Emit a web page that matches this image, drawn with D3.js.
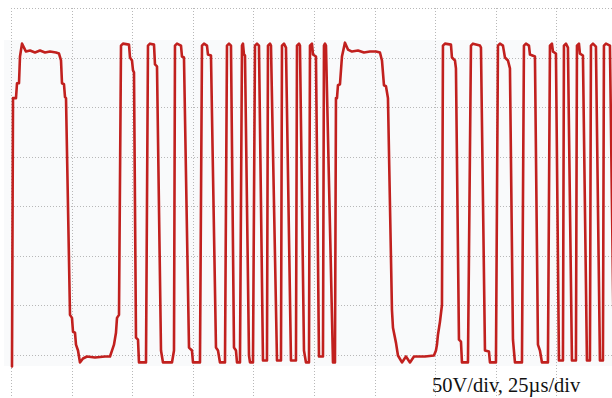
<!DOCTYPE html>
<html>
<head>
<meta charset="utf-8">
<script src="https://cdn.jsdelivr.net/npm/d3@7"></script>
<style>
  html, body { margin: 0; padding: 0; background: #ffffff; }
  svg { display: block; }
</style>
</head>
<body>
<div id="chart"></div>
<script>
// ---- data (time in microseconds, voltage in volts) ----
const timeTicks = [0, 25, 50, 75, 100, 125, 150, 175, 200, 225, 250];
const voltTicks = [-200, -150, -100, -50, 0, 50, 100, 150, 200];
const scaleLabel = "50V/div, 25\u00b5s/div";

const traceTimeUs = [
  0.41, 0.83, 2.06, 2.48, 3.30, 3.71, 4.54, 5.36, 6.19, 7.84, 9.90, 11.96, 14.03, 16.09, 18.56, 19.80,
  20.63, 21.04, 21.86, 22.28, 22.69, 24.34, 25.16, 25.58, 26.40, 26.81, 27.64, 28.46, 29.70, 31.35,
  34.65, 38.78, 40.84, 41.66, 42.49, 43.31, 43.73, 44.55,
  45.38, 46.20, 48.68, 49.09, 49.91, 50.33, 50.74, 51.56, 52.39, 52.80, 55.69,
  56.51, 57.34, 58.99, 59.40, 60.23, 61.88, 62.70, 66.41, 67.24,
  67.65, 68.48, 70.13, 70.54, 71.36, 73.43, 74.66, 75.08, 77.96,
  78.79, 79.61, 80.85, 81.26, 82.50, 84.56, 85.39, 86.21, 88.28,
  89.10, 89.93, 90.75, 91.99, 92.81, 93.23, 94.46,
  95.29, 95.70, 96.11, 96.53, 98.18, 98.59, 99.83,
  100.65, 101.48, 102.30, 103.95, 105.60,
  106.01, 106.84, 107.25, 109.73, 111.38,
  111.79, 112.61, 113.44, 115.50, 117.56,
  117.98, 118.80, 119.21, 120.86, 121.69, 122.93,
  123.34, 124.16, 124.58, 125.81, 127.05, 128.70,
  129.11, 129.53, 129.94, 132.83, 133.65,
  134.06, 134.48, 134.89, 135.71, 136.54, 137.78, 139.01, 140.66, 143.14, 145.61, 148.09, 150.56,
  152.21, 153.04, 153.86, 154.69, 155.51, 157.16, 157.58, 158.81, 159.64, 161.29, 162.94, 164.59,
  166.24, 170.78, 174.49, 175.31, 175.73, 176.14, 176.96, 177.79,
  178.20, 179.03, 181.50, 181.91, 183.15, 183.56, 184.80, 185.63, 186.04, 188.51,
  189.75, 190.58, 193.46, 193.88, 195.53, 197.18, 197.59, 200.06,
  200.89, 201.71, 202.95, 203.78, 205.01, 205.84, 207.08, 207.90, 210.79,
  211.61, 212.44, 213.68, 214.09, 216.15, 217.39, 218.21, 219.04, 221.51,
  222.34, 223.16, 223.58, 224.81, 226.05, 227.70,
  228.11, 228.94, 229.76, 231.41, 233.06,
  233.48, 234.30, 234.71, 235.95, 237.60, 238.84,
  239.25, 240.08, 241.31, 242.96, 244.20,
  244.61, 245.44, 247.09, 248.74
];

const traceVolts = [
  -162, 109, 109, 124, 124, 151, 164, 160, 156, 157, 155, 157, 155, 156, 155, 154,
  147, 124, 123, 110, 109, -110, -113, -127, -128, -140, -146, -158, -154, -152,
  -153, -152, -152, -146, -140, -128, -113, -110,
  162, 164, 163, 150, 147, 137, 135, -133, -135, -158, -158,
  162, 164, 163, 143, 141, -146, -158, -158, -146,
  162, 164, 162, 151, 150, -143, -146, -158, -158,
  162, 164, 162, 153, 152, -143, -146, -158, -158,
  162, 164, 162, -143, -146, -158, -158,
  162, 164, 153, 152, -151, -158, -158,
  162, 164, 162, -156, -156,
  162, 164, 162, -156, -156,
  162, 164, 160, -156, -156,
  162, 164, 162, -146, -158, -158,
  162, 164, 153, 151, -152, -152,
  162, 164, 162, -158, -158,
  109, 109, 122, 123, 151, 165, 158, 156, 157, 155, 156, 156,
  155, 147, 122, 121, 109, -105, -123, -138, -151, -158, -152, -158,
  -152, -152, -151, -146, -140, -130, -117, -100,
  162, 164, 163, 150, 147, 139, -135, -137, -158, -158,
  162, 164, 162, 160, -146, -147, -158, -158,
  162, 164, 162, 150, 147, 139, -135, -158, -158,
  162, 164, 162, 153, 151, -140, -146, -158, -158,
  162, 164, 156, 154, -156, -156,
  162, 164, 160, -156, -156,
  162, 164, 154, 152, -156, -156,
  162, 164, 161, -156, -156,
  162, 164, 162, -156
];

// ---- drawing ----
const W = 612, H = 398;
const svg = d3.select("#chart").append("svg")
  .attr("width", W).attr("height", H)
  .attr("viewBox", `0 0 ${W} ${H}`);

const x = d3.scaleLinear().domain([0, 250]).range([11, 617]);
const y = d3.scaleLinear().domain([-200, 200]).range([404, 8]);

// faint screen tint of the scanned scope image
svg.append("rect")
  .attr("x", 4).attr("y", 40).attr("width", W - 4).attr("height", 326)
  .attr("fill", "#f9fafb");

// grid
const grid = svg.append("g")
  .attr("stroke", "#b8b8b8").attr("stroke-width", 1)
  .attr("stroke-dasharray", "1,2").attr("fill", "none");

grid.selectAll("line.v").data(timeTicks).join("line")
  .attr("class", "v")
  .attr("x1", d => Math.round(x(d)) + 0.5).attr("x2", d => Math.round(x(d)) + 0.5)
  .attr("y1", y(200)).attr("y2", H);

grid.selectAll("line.h").data(voltTicks).join("line")
  .attr("class", "h")
  .attr("x1", x(0)).attr("x2", W)
  .attr("y1", d => Math.round(y(d)) + 0.5).attr("y2", d => Math.round(y(d)) + 0.5);

// trace
const pts = traceTimeUs.map((t, i) => [t, traceVolts[i]]);
const line = d3.line().x(d => x(d[0])).y(d => y(d[1]));

svg.append("path")
  .datum(pts)
  .attr("d", line)
  .attr("fill", "none")
  .attr("stroke", "#c1201e")
  .attr("stroke-width", 2.6)
  .attr("stroke-linejoin", "round")
  .attr("stroke-linecap", "round");

// scale annotation
svg.append("text")
  .attr("x", 432).attr("y", 392)
  .attr("font-family", "'Liberation Serif', 'Times New Roman', serif")
  .attr("font-size", 20.5)
  .attr("fill", "#111")
  .text(scaleLabel);
</script>
</body>
</html>
